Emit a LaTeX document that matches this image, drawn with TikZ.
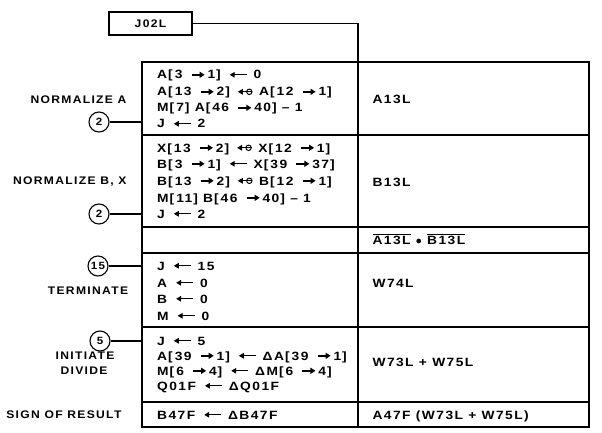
\documentclass[tikz,border=0pt]{standalone}
\usepackage{fontspec}
\newfontfamily\lettering[LetterSpace=12,FakeStretch=1.1]{Liberation Sans Bold}
\newfontfamily\codefont[LetterSpace=12,FakeStretch=1.15]{Liberation Sans Bold}
\usetikzlibrary{arrows.meta,positioning}

% small arrows used inside the register transfers
\newcommand{\rar}{\hspace{3pt}\tikz[baseline=-4.2pt]\draw[-{Triangle[length=5pt,width=6pt]},line width=1.8pt] (0pt,0pt) -- (13pt,0pt);\hspace{2pt}}
\newcommand{\lar}{\hspace{3pt}\tikz[baseline=-4.2pt]\draw[{Triangle[length=5pt,width=5.5pt]}-,line width=1.3pt] (0pt,0pt) -- (17pt,0pt);\hspace{1pt}}
\newcommand{\xch}{\hspace{2pt}\tikz[baseline=-4.2pt]{\draw[{Triangle[length=5pt,width=5.5pt]}-,line width=1.3pt] (0pt,0pt) -- (9pt,0pt);
  \draw[line width=1pt] (11.5pt,0pt) circle (2.7pt); \draw[line width=1pt] (8pt,0pt) -- (14.5pt,0pt);}\hspace{1pt}}
\newcommand{\ovl}[1]{$\overline{\mbox{\codefont #1}}$}
\newcommand{\bk}[1]{\hspace{1pt}[\hspace{2pt}#1\hspace{1pt}]}

\begin{document}
\begin{tikzpicture}[x=1pt, y=-1pt, line width=1.1pt,
    code/.style={anchor=base west, inner sep=0pt, font=\codefont\fontsize{12}{14}\selectfont},
    lbl/.style={inner sep=0pt, font=\lettering\fontsize{11}{13}\selectfont},
    num/.style={circle, draw, line width=1.1pt, minimum size=20pt, inner sep=0pt, font=\lettering\fontsize{10.5}{12}\selectfont}]
  \useasboundingbox (0,0) rectangle (602,433);

  % entry box
  \node[lbl, draw, minimum width=83pt, minimum height=23pt] (j02l) at (150.5,23.5) {J02L};
  \coordinate (top) at (358,62);
  \draw (j02l.east) -| (top);

  % table frame
  \draw (142,62) rectangle (589,427);
  \draw (top) -- (358,427);
  \draw (142,135) -- (589,135);
  \draw[line width=2.8pt] (142,227) -- (589,227);
  \draw (142,253) -- (589,253);
  \draw (142,327) -- (589,327);
  \draw (142,402) -- (589,402);

  % normalize A
  \node[lbl, anchor=east] (nla) at (127,100) {NORMALIZE A};
  \node[num] (c2a) at (99,122) {2};
  \draw (c2a.east) -- (142,122);
  \node[code] (a1) at (157,79) {A\bk{3 \rar 1} \lar{} 0};
  \node[code] (a2) at (157,96) {A\bk{13 \rar 2} \xch{} A\bk{12 \rar 1}};
  \node[code] (a3) at (157,112) {M\bk{7} A\bk{46 \rar 40} \textendash{} 1};
  \node[code] (a4) at (157,128) {J \lar{} 2};
  \node[code] (a13l) at (372,104) {A13L};

  % normalize B, X
  \node[lbl, anchor=east] (nlb) at (127,182) {NORMALIZE B, X};
  \node[num] (c2b) at (99,214) {2};
  \draw (c2b.east) -- (142,214);
  \node[code] (b1) at (157,152) {X\bk{13 \rar 2} \xch{} X\bk{12 \rar 1}};
  \node[code] (b2) at (157,168) {B\bk{3 \rar 1} \lar{} X\bk{39 \rar 37}};
  \node[code] (b3) at (157,185) {B\bk{13 \rar 2} \xch{} B\bk{12 \rar 1}};
  \node[code] (b4) at (157,202) {M\bk{11} B\bk{46 \rar 40} \textendash{} 1};
  \node[code] (b5) at (157,218) {J \lar{} 2};
  \node[code] (b13l) at (372,186) {B13L};

  % neither normalized
  \node[code] (nand) at (372,244) {\ovl{A13L} $\bullet$ \ovl{B13L}};

  % terminate
  \node[num] (c15) at (98,266) {15};
  \draw (c15.east) -- (142,266);
  \node[lbl] (term) at (88,291) {TERMINATE};
  \node[code] (t1) at (157,270) {J \lar{} 15};
  \node[code] (t2) at (157,287) {A \lar{} 0};
  \node[code] (t3) at (157,303) {B \lar{} 0};
  \node[code] (t4) at (157,320) {M \lar{} 0};
  \node[code] (w74l) at (372,287) {W74L};

  % initiate divide
  \node[num] (c5) at (100,341) {5};
  \draw (c5.east) -- (142,341);
  \node[lbl] (init) at (85,356) {INITIATE};
  \node[lbl] (div) at (84,371) {DIVIDE};
  \node[code] (d1) at (157,345) {J \lar{} 5};
  \node[code] (d2) at (157,360) {A\bk{39 \rar 1} \lar{} ΔA\bk{39 \rar 1}};
  \node[code] (d3) at (157,375) {M\bk{6 \rar 4} \lar{} ΔM\bk{6 \rar 4}};
  \node[code] (d4) at (157,390) {Q01F \lar{} ΔQ01F};
  \node[code] (w73l) at (372,366) {W73L + W75L};

  % sign of result
  \node[lbl, anchor=east] (sign) at (122,415) {SIGN OF RESULT};
  \node[code] (s1) at (157,419) {B47F \lar{} ΔB47F};
  \node[code] (a47f) at (372,419) {A47F (W73L + W75L)};
\end{tikzpicture}
\end{document}
